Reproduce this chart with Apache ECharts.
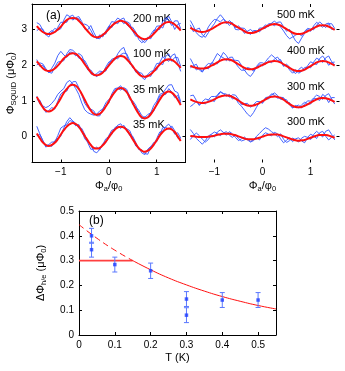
<!DOCTYPE html>
<html>
<head>
<meta charset="utf-8">
<script src="https://cdn.jsdelivr.net/npm/echarts@6/dist/echarts.min.js"></script>
<style>
  html, body { margin: 0; padding: 0; background: #fff; }
  #chart { width: 345px; height: 371px; }
</style>
</head>
<body>
<div id="chart"></div>
<script>
// flux axis (Phi_a / phi_0), shared by every trace in panel (a)
const phiA = [-1.5, -1.4375, -1.375, -1.3125, -1.25, -1.1875, -1.125, -1.0625, -1, -0.9375, -0.875, -0.8125,
  -0.75, -0.6875, -0.625, -0.5625, -0.5, -0.4375, -0.375, -0.3125, -0.25, -0.1875, -0.125, -0.0625,
  0, 0.0625, 0.125, 0.1875, 0.25, 0.3125, 0.375, 0.4375, 0.5, 0.5625, 0.625, 0.6875, 0.75, 0.8125,
  0.875, 0.9375, 1, 1.0625, 1.125, 1.1875, 1.25, 1.3125, 1.375, 1.4375, 1.5];
const phiTicks = [-1, 0, 1];
const squidTicks = [0, 1, 2, 3];

// left column: 200 mK, 100 mK, 35 mK, 35 mK (offset by 3, 2, 1, 0)
const fit200 = [3.08, 2.99, 2.92, 2.88, 2.86, 2.88, 2.92, 2.99, 3.07, 3.17, 3.25, 3.30, 3.31, 3.30, 3.23, 3.15, 3.04, 2.94, 2.85, 2.79, 2.77, 2.79, 2.84, 2.91, 3.00, 3.09, 3.16, 3.21, 3.23, 3.21, 3.16, 3.07, 2.97, 2.88, 2.79, 2.74, 2.72, 2.74, 2.79, 2.87, 2.96, 3.05, 3.13, 3.18, 3.20, 3.18, 3.13, 3.05, 2.96];
const blue200a = [3.18, 3.13, 2.97, 2.84, 2.89, 2.96, 2.90, 3.05, 3.19, 3.19, 3.19, 3.35, 3.39, 3.27, 3.29, 3.13, 3.14, 3.10, 2.97, 2.81, 2.73, 2.84, 2.78, 2.94, 3.08, 3.04, 3.20, 3.31, 3.25, 3.15, 3.21, 3.16, 2.94, 2.80, 2.81, 2.69, 2.62, 2.72, 2.85, 2.97, 2.98, 2.99, 3.21, 3.32, 3.24, 3.10, 3.23, 3.23, 3.01];
const blue200b = [2.96, 3.01, 3.00, 2.85, 2.78, 2.92, 3.02, 2.97, 3.01, 3.25, 3.40, 3.35, 3.25, 3.32, 3.35, 3.21, 3.00, 2.98, 3.10, 2.91, 2.75, 2.73, 2.87, 2.86, 3.06, 3.21, 3.19, 3.15, 3.27, 3.31, 3.12, 3.05, 3.05, 2.92, 2.71, 2.62, 2.68, 2.77, 2.73, 2.92, 3.08, 3.09, 3.03, 3.24, 3.36, 3.20, 2.99, 3.13, 3.16];

const fit100 = [2.10, 2.00, 1.91, 1.85, 1.83, 1.85, 1.90, 1.98, 2.08, 2.18, 2.25, 2.31, 2.33, 2.31, 2.24, 2.14, 2.02, 1.91, 1.80, 1.73, 1.71, 1.73, 1.79, 1.88, 1.98, 2.08, 2.17, 2.23, 2.25, 2.23, 2.16, 2.07, 1.96, 1.85, 1.75, 1.69, 1.67, 1.69, 1.74, 1.82, 1.92, 2.01, 2.09, 2.14, 2.16, 2.14, 2.09, 2.01, 1.92];
const blue100a = [2.15, 1.96, 1.99, 1.87, 1.78, 1.91, 2.05, 2.26, 2.38, 2.28, 2.21, 2.36, 2.35, 2.25, 2.32, 2.26, 2.06, 1.86, 1.86, 1.75, 1.67, 1.78, 1.77, 1.94, 2.08, 2.12, 2.14, 2.31, 2.43, 2.49, 2.26, 2.03, 1.99, 1.80, 1.79, 1.77, 1.65, 1.72, 1.68, 1.87, 2.04, 2.05, 2.01, 2.24, 2.31, 2.10, 2.21, 2.21, 1.96];
const blue100b = [2.00, 2.06, 2.03, 1.90, 1.80, 1.77, 1.94, 2.08, 2.10, 2.12, 2.31, 2.43, 2.41, 2.33, 2.19, 2.17, 2.12, 1.97, 1.76, 1.71, 1.76, 1.83, 1.81, 1.83, 2.02, 2.16, 2.19, 2.17, 2.29, 2.33, 2.31, 2.12, 1.92, 1.87, 1.81, 1.66, 1.59, 1.73, 1.82, 1.84, 1.86, 2.07, 2.23, 2.16, 2.10, 2.26, 2.31, 2.06, 1.82];

const fit35a = [1.11, 0.96, 0.82, 0.73, 0.70, 0.73, 0.81, 0.93, 1.07, 1.22, 1.33, 1.42, 1.45, 1.42, 1.33, 1.19, 1.03, 0.87, 0.73, 0.64, 0.61, 0.64, 0.72, 0.84, 0.98, 1.13, 1.24, 1.33, 1.36, 1.33, 1.24, 1.10, 0.94, 0.78, 0.64, 0.54, 0.51, 0.54, 0.62, 0.75, 0.89, 1.03, 1.15, 1.23, 1.26, 1.23, 1.15, 1.03, 0.88];
const blue35a1 = [1.13, 0.91, 0.86, 0.81, 0.85, 0.93, 1.03, 1.18, 1.27, 1.34, 1.51, 1.57, 1.47, 1.34, 1.18, 0.94, 0.75, 0.67, 0.63, 0.60, 0.63, 0.72, 0.77, 0.94, 1.04, 1.09, 1.29, 1.35, 1.30, 1.37, 1.32, 1.12, 0.90, 0.84, 0.74, 0.59, 0.53, 0.62, 0.66, 0.87, 0.99, 1.18, 1.21, 1.33, 1.44, 1.45, 1.27, 1.23, 0.98];
const blue35a2 = [1.03, 1.02, 0.84, 0.68, 0.73, 0.81, 0.77, 0.99, 1.19, 1.26, 1.27, 1.44, 1.53, 1.54, 1.37, 1.17, 0.93, 0.81, 0.77, 0.72, 0.58, 0.58, 0.77, 0.86, 0.93, 1.19, 1.34, 1.36, 1.42, 1.29, 1.26, 1.04, 1.00, 0.88, 0.66, 0.50, 0.56, 0.52, 0.68, 0.71, 0.93, 1.13, 1.17, 1.18, 1.34, 1.25, 1.09, 1.15, 0.93];

const fit35b = [0.09, -0.04, -0.16, -0.23, -0.26, -0.23, -0.17, -0.07, 0.06, 0.18, 0.28, 0.35, 0.38, 0.35, 0.28, 0.15, 0.02, -0.11, -0.23, -0.31, -0.33, -0.31, -0.24, -0.14, -0.02, 0.10, 0.19, 0.26, 0.28, 0.26, 0.18, 0.07, -0.07, -0.20, -0.32, -0.39, -0.42, -0.39, -0.33, -0.22, -0.10, 0.03, 0.13, 0.20, 0.23, 0.20, 0.13, 0.01, -0.12];
const blue35b1 = [0.29, 0.08, -0.11, -0.25, -0.22, -0.15, -0.15, 0.03, 0.24, 0.30, 0.33, 0.45, 0.42, 0.30, 0.34, 0.17, -0.06, -0.15, -0.21, -0.41, -0.45, -0.35, -0.20, -0.17, 0.03, 0.18, 0.21, 0.32, 0.36, 0.24, 0.22, 0.17, -0.03, -0.26, -0.30, -0.45, -0.50, -0.35, -0.27, -0.25, -0.05, 0.13, 0.15, 0.28, 0.35, 0.24, 0.07, 0.11, -0.04];
const blue35b2 = [0.03, 0.06, -0.10, -0.29, -0.24, -0.27, -0.11, -0.05, 0.01, 0.24, 0.42, 0.53, 0.44, 0.37, 0.24, 0.23, 0.06, -0.17, -0.35, -0.35, -0.29, -0.37, -0.22, -0.06, 0.00, 0.06, 0.25, 0.30, 0.23, 0.32, 0.20, 0.03, 0.01, -0.16, -0.36, -0.37, -0.47, -0.49, -0.29, -0.16, -0.14, 0.05, 0.25, 0.26, 0.21, 0.30, 0.17, -0.04, -0.06];

// right column: 500 mK, 400 mK, 300 mK, 300 mK
const fit500 = [3.04, 2.99, 2.95, 2.93, 2.92, 2.93, 2.96, 3.00, 3.05, 3.10, 3.15, 3.18, 3.19, 3.18, 3.14, 3.09, 3.04, 2.99, 2.94, 2.90, 2.89, 2.90, 2.93, 2.97, 3.01, 3.06, 3.10, 3.13, 3.14, 3.13, 3.10, 3.05, 3.00, 2.95, 2.90, 2.87, 2.86, 2.87, 2.90, 2.94, 2.98, 3.03, 3.07, 3.10, 3.11, 3.10, 3.07, 3.03, 2.98];
const blue500a = [3.24, 3.09, 2.90, 2.81, 2.77, 2.88, 3.06, 3.18, 3.27, 3.25, 3.20, 3.28, 3.21, 3.10, 3.18, 2.99, 2.98, 3.03, 3.02, 2.92, 2.85, 2.96, 2.96, 2.92, 3.03, 3.12, 3.07, 3.17, 3.22, 3.15, 3.06, 2.95, 2.82, 2.73, 2.78, 2.83, 2.88, 2.81, 2.94, 3.02, 3.00, 2.98, 3.11, 3.20, 3.13, 3.04, 3.15, 3.15, 3.02];
const blue500b = [3.12, 2.93, 2.99, 3.03, 2.84, 2.77, 2.90, 3.04, 3.15, 3.30, 3.40, 3.30, 3.15, 3.24, 3.16, 3.04, 3.09, 3.01, 2.88, 2.94, 2.99, 2.92, 2.90, 3.03, 3.03, 3.02, 3.15, 3.15, 3.09, 3.19, 3.20, 3.07, 2.94, 2.99, 2.82, 2.67, 2.60, 2.75, 2.88, 2.99, 2.94, 3.09, 3.19, 3.12, 3.05, 3.14, 3.17, 2.99, 3.00];

const fit400 = [1.98, 1.94, 1.92, 1.90, 1.90, 1.91, 1.94, 1.98, 2.02, 2.07, 2.12, 2.15, 2.16, 2.15, 2.12, 2.07, 2.02, 1.97, 1.92, 1.89, 1.88, 1.89, 1.92, 1.96, 2.00, 2.04, 2.08, 2.10, 2.11, 2.10, 2.07, 2.02, 1.97, 1.92, 1.87, 1.84, 1.83, 1.84, 1.87, 1.92, 1.97, 2.02, 2.07, 2.10, 2.11, 2.10, 2.07, 2.03, 1.98];
const blue400a = [2.18, 2.02, 1.86, 1.92, 1.82, 1.96, 2.04, 2.02, 2.17, 2.32, 2.24, 2.20, 2.12, 2.21, 2.22, 2.05, 1.94, 1.85, 1.86, 1.74, 1.68, 1.79, 1.94, 2.02, 1.97, 2.09, 2.20, 2.28, 2.21, 2.12, 2.15, 1.98, 1.99, 1.86, 1.77, 1.87, 1.77, 1.82, 1.93, 1.94, 1.92, 2.08, 2.19, 2.14, 2.07, 2.20, 2.25, 2.09, 2.00];
const blue400b = [1.92, 1.98, 2.02, 1.86, 1.80, 1.93, 1.89, 2.06, 2.04, 2.03, 2.20, 2.35, 2.26, 2.11, 2.14, 2.13, 2.12, 1.99, 1.84, 1.93, 1.90, 1.83, 1.96, 2.06, 2.06, 2.02, 2.12, 2.06, 2.17, 2.22, 2.11, 1.96, 2.02, 1.94, 1.83, 1.76, 1.87, 1.94, 1.85, 1.98, 2.09, 2.04, 2.01, 2.18, 2.25, 2.14, 1.99, 2.07, 2.08];

const fit300a = [1.04, 1.00, 0.97, 0.95, 0.94, 0.95, 0.97, 1.00, 1.04, 1.09, 1.12, 1.14, 1.15, 1.14, 1.11, 1.06, 1.01, 0.95, 0.90, 0.87, 0.86, 0.87, 0.90, 0.94, 0.99, 1.04, 1.09, 1.11, 1.12, 1.11, 1.08, 1.03, 0.97, 0.91, 0.86, 0.83, 0.82, 0.83, 0.86, 0.90, 0.95, 1.00, 1.04, 1.07, 1.08, 1.07, 1.05, 1.01, 0.97];
const blue300a1 = [0.84, 0.90, 0.99, 0.87, 0.98, 1.05, 1.03, 1.12, 1.12, 1.13, 1.24, 1.20, 1.13, 1.18, 1.05, 1.08, 0.93, 0.85, 0.74, 0.63, 0.56, 0.67, 0.82, 0.96, 0.95, 1.09, 1.11, 1.19, 1.16, 1.07, 1.10, 1.09, 0.95, 0.95, 0.80, 0.85, 0.88, 0.80, 0.91, 1.00, 0.99, 1.08, 1.16, 1.12, 1.04, 1.15, 1.20, 1.05, 0.91];
const blue300a2 = [1.14, 1.16, 1.01, 0.89, 0.96, 0.91, 1.02, 1.02, 0.98, 1.17, 1.26, 1.20, 1.19, 1.10, 1.17, 1.16, 1.05, 0.89, 0.92, 0.93, 0.82, 0.89, 0.98, 0.98, 0.93, 1.06, 1.05, 1.17, 1.22, 1.15, 1.04, 1.05, 1.03, 0.89, 0.80, 0.87, 0.80, 0.89, 0.96, 0.92, 0.91, 1.06, 1.06, 1.01, 1.18, 1.11, 0.95, 1.09, 1.09];

const fit300b = [0.02, 0.01, 0.00, -0.01, -0.01, -0.01, 0.00, 0.01, 0.03, 0.05, 0.07, 0.08, 0.08, 0.08, 0.06, 0.04, 0.01, -0.02, -0.05, -0.07, -0.07, -0.07, -0.05, -0.03, 0.00, 0.03, 0.05, 0.06, 0.06, 0.06, 0.04, 0.01, -0.02, -0.05, -0.08, -0.10, -0.11, -0.10, -0.09, -0.06, -0.03, 0.00, 0.03, 0.05, 0.05, 0.05, 0.03, 0.00, -0.03];
const blue300b1 = [0.20, 0.09, -0.05, -0.13, -0.21, -0.11, 0.02, 0.07, 0.13, 0.09, 0.03, 0.10, 0.14, 0.04, -0.02, 0.06, -0.05, -0.12, -0.09, -0.05, -0.13, -0.09, 0.01, 0.09, 0.18, 0.25, 0.21, 0.14, 0.08, 0.00, 0.08, -0.07, -0.16, -0.11, -0.04, -0.08, -0.15, -0.04, 0.01, -0.02, -0.08, 0.06, 0.15, 0.07, -0.01, 0.15, 0.19, 0.06, -0.09];
const blue300b2 = [-0.08, 0.03, 0.10, 0.03, -0.07, -0.15, -0.08, 0.05, -0.01, 0.13, 0.19, 0.12, 0.04, 0.14, 0.08, -0.02, -0.11, -0.06, -0.01, -0.09, -0.15, -0.11, -0.03, -0.09, 0.04, 0.11, 0.07, 0.02, 0.12, 0.08, -0.06, -0.17, -0.10, -0.03, -0.14, -0.06, -0.03, -0.12, -0.17, -0.02, 0.07, 0.02, -0.05, 0.11, 0.15, 0.01, -0.09, -0.02, 0.05];

// panel (b): amplitude vs temperature
const tempK = [0.035, 0.035, 0.1, 0.2, 0.3, 0.3, 0.4, 0.5];
const dPhi = [0.400, 0.344, 0.284, 0.259, 0.145, 0.080, 0.141, 0.141];
const dPhiErr = [0.030, 0.030, 0.030, 0.031, 0.030, 0.030, 0.030, 0.030];
const flatT = [0, 0.15];
const flatV = [0.30, 0.30];
const decayT = [0.15, 0.2, 0.25, 0.3, 0.35, 0.4, 0.45, 0.5, 0.55];
const decayV = [0.300, 0.263, 0.230, 0.202, 0.177, 0.155, 0.136, 0.119, 0.105];
const dashT = [0, 0.05, 0.1, 0.15];
const dashV = [0.445, 0.390, 0.342, 0.300];
const tTicks = [0, 0.1, 0.2, 0.3, 0.4, 0.5];

const FONT = 'Liberation Sans, Arial, sans-serif';
const BLUE = '#3a5cff';
const RED = '#ff1010';
const minusFmt = v => String(v).replace('-', '\u2212');

const richName = {
  a: { fontSize: 11, lineHeight: 14, fontFamily: FONT, color: '#000' },
  s: { fontSize: 7.5, lineHeight: 6, verticalAlign: 'bottom', fontFamily: FONT, color: '#000' }
};

const leftRows = [
  { fit: fit200, traces: [blue200a, blue200b] },
  { fit: fit100, traces: [blue100a, blue100b] },
  { fit: fit35a, traces: [blue35a1, blue35a2] },
  { fit: fit35b, traces: [blue35b1, blue35b2] }
];
const rightRows = [
  { fit: fit500, traces: [blue500a, blue500b] },
  { fit: fit400, traces: [blue400a, blue400b] },
  { fit: fit300a, traces: [blue300a1, blue300a2] },
  { fit: fit300b, traces: [blue300b1, blue300b2] }
];

const zip = (xs, ys) => ys.map((y, i) => [xs[i], y]);

function rowSeries(rows, axisIdx) {
  const out = [];
  rows.forEach(row => {
    row.traces.forEach(tr => {
      out.push({
        type: 'line', xAxisIndex: axisIdx, yAxisIndex: axisIdx,
        data: zip(phiA, tr), showSymbol: false,
        lineStyle: { color: BLUE, width: 1, opacity: 0.95 }, z: 2
      });
    });
  });
  rows.forEach(row => {
    out.push({
      type: 'line', xAxisIndex: axisIdx, yAxisIndex: axisIdx,
      data: zip(phiA, row.fit), showSymbol: false, smooth: true,
      lineStyle: { color: RED, width: 2 }, z: 4
    });
  });
  return out;
}

const tickStyle = { color: '#000', width: 1 };
const lineOn = { show: true, onZero: false, lineStyle: { color: '#000', width: 1 } };
const lineOff = { show: false, onZero: false };
const labelStyle = { color: '#000', fontSize: 10, fontFamily: FONT };

function phiAxis(grid, pos, withLine, withLabel) {
  return {
    type: 'value', gridIndex: grid, position: pos, min: -1.6, max: 1.6,
    axisLine: withLine ? lineOn : lineOff,
    axisTick: { show: true, inside: true, length: 3, customValues: phiTicks, lineStyle: tickStyle },
    axisLabel: withLabel
      ? Object.assign({ show: true, customValues: phiTicks, formatter: minusFmt, margin: 5 }, labelStyle)
      : { show: false },
    splitLine: { show: false },
    name: withLabel ? '{a|Φ}{s|a}{a|/φ}{s|0}' : '',
    nameLocation: 'middle', nameGap: 16,
    nameTextStyle: { rich: richName }
  };
}

function squidAxis(grid, pos, withLine, withLabel, withTicks) {
  return {
    type: 'value', gridIndex: grid, position: pos, min: -0.72, max: 3.70,
    axisLine: withLine ? lineOn : lineOff,
    axisTick: { show: withTicks, inside: true, length: 3, customValues: squidTicks, lineStyle: tickStyle },
    axisLabel: withLabel
      ? Object.assign({ show: true, customValues: squidTicks, margin: 5 }, labelStyle)
      : { show: false },
    splitLine: { show: false },
    name: withLabel ? '{a|Φ}{s|SQUID}{a| (μΦ}{s|0}{a|)}' : '',
    nameLocation: 'middle', nameGap: 13, nameRotate: 90,
    nameTextStyle: { rich: richName }
  };
}

const chart = echarts.init(document.getElementById('chart'));

const option = {
  animation: false,
  backgroundColor: '#fff',
  grid: [
    { left: 32, top: 4, width: 153.5, height: 158.5 },
    { left: 185.5, top: 4, width: 154, height: 158.5 },
    { left: 79, top: 211, width: 197, height: 124 }
  ],
  xAxis: [
    phiAxis(0, 'bottom', true, true),
    phiAxis(1, 'bottom', false, true),
    phiAxis(0, 'top', true, false),
    phiAxis(1, 'top', false, false),
    {
      type: 'value', gridIndex: 2, position: 'bottom', min: 0, max: 0.55,
      axisLine: lineOn,
      axisTick: { inside: true, length: 3, customValues: tTicks, lineStyle: tickStyle },
      axisLabel: Object.assign({ customValues: tTicks, margin: 5 }, labelStyle),
      splitLine: { show: false },
      name: 'T (K)', nameLocation: 'middle', nameGap: 17,
      nameTextStyle: { fontSize: 11, fontFamily: FONT, color: '#000' }
    },
    {
      type: 'value', gridIndex: 2, position: 'top', min: 0, max: 0.55,
      axisLine: lineOn,
      axisTick: { inside: true, length: 3, customValues: tTicks, lineStyle: tickStyle },
      axisLabel: { show: false }, splitLine: { show: false }
    }
  ],
  yAxis: [
    squidAxis(0, 'left', true, true, true),
    squidAxis(1, 'left', false, false, false),
    squidAxis(0, 'right', true, false, true),
    squidAxis(1, 'right', false, false, true),
    {
      type: 'value', gridIndex: 2, position: 'left', min: 0, max: 0.5, interval: 0.1,
      axisLine: lineOn,
      axisTick: { inside: true, length: 3, lineStyle: tickStyle },
      axisLabel: Object.assign({ margin: 5 }, labelStyle),
      splitLine: { show: false },
      name: '{a|ΔΦ}{s|h/e}{a| (μΦ}{s|0}{a|)}', nameLocation: 'middle', nameGap: 31, nameRotate: 90,
      nameTextStyle: { rich: richName }
    },
    {
      type: 'value', gridIndex: 2, position: 'right', min: 0, max: 0.5, interval: 0.1,
      axisLine: lineOn,
      axisTick: { inside: true, length: 3, lineStyle: tickStyle },
      axisLabel: { show: false }, splitLine: { show: false }
    }
  ],
  series: [
    ...rowSeries(leftRows, 0),
    ...rowSeries(rightRows, 1),
    {
      type: 'line', xAxisIndex: 4, yAxisIndex: 4, data: zip(flatT, flatV), showSymbol: false,
      lineStyle: { color: '#ff4040', width: 1.6 }, z: 3
    },
    {
      type: 'line', xAxisIndex: 4, yAxisIndex: 4, data: zip(decayT, decayV), showSymbol: false, smooth: true,
      lineStyle: { color: RED, width: 1 }, z: 3
    },
    {
      type: 'line', xAxisIndex: 4, yAxisIndex: 4, data: zip(dashT, dashV), showSymbol: false, smooth: true,
      lineStyle: { color: RED, width: 1, type: [6, 4] }, z: 3
    },
    {
      type: 'custom', xAxisIndex: 4, yAxisIndex: 4,
      data: tempK.map((t, i) => [t, dPhi[i], dPhi[i] - dPhiErr[i], dPhi[i] + dPhiErr[i]]),
      encode: { x: 0, y: [1, 2, 3] },
      renderItem: (params, api) => {
        const top = api.coord([api.value(0), api.value(3)]);
        const bot = api.coord([api.value(0), api.value(2)]);
        const w = 2.5;
        const st = { stroke: '#5a78ff', lineWidth: 1 };
        return {
          type: 'group',
          children: [
            { type: 'line', shape: { x1: top[0], y1: top[1], x2: bot[0], y2: bot[1] }, style: st },
            { type: 'line', shape: { x1: top[0] - w, y1: top[1], x2: top[0] + w, y2: top[1] }, style: st },
            { type: 'line', shape: { x1: bot[0] - w, y1: bot[1], x2: bot[0] + w, y2: bot[1] }, style: st }
          ]
        };
      },
      z: 4
    },
    {
      type: 'scatter', xAxisIndex: 4, yAxisIndex: 4, data: zip(tempK, dPhi),
      symbol: 'rect', symbolSize: 3.5, itemStyle: { color: '#1e3cff' }, z: 5
    }
  ],
  graphic: [
    { type: 'text', left: 46, top: 10, style: { text: '(a)', fontSize: 12, fontFamily: FONT, fill: '#000' } },
    { type: 'text', left: 89, top: 215, style: { text: '(b)', fontSize: 12, fontFamily: FONT, fill: '#000' } },
    { type: 'text', left: 133, top: 13, style: { text: '200 mK', fontSize: 11, fontFamily: FONT, fill: '#000' } },
    { type: 'text', left: 133, top: 48, style: { text: '100 mK', fontSize: 11, fontFamily: FONT, fill: '#000' } },
    { type: 'text', left: 133, top: 84, style: { text: '35 mK', fontSize: 11, fontFamily: FONT, fill: '#000' } },
    { type: 'text', left: 133, top: 119.5, style: { text: '35 mK', fontSize: 11, fontFamily: FONT, fill: '#000' } },
    { type: 'text', left: 277, top: 9.5, style: { text: '500 mK', fontSize: 11, fontFamily: FONT, fill: '#000' } },
    { type: 'text', left: 287, top: 45.5, style: { text: '400 mK', fontSize: 11, fontFamily: FONT, fill: '#000' } },
    { type: 'text', left: 287, top: 81, style: { text: '300 mK', fontSize: 11, fontFamily: FONT, fill: '#000' } },
    { type: 'text', left: 287, top: 116.5, style: { text: '300 mK', fontSize: 11, fontFamily: FONT, fill: '#000' } }
  ]
};

chart.setOption(option);
</script>
</body>
</html>
